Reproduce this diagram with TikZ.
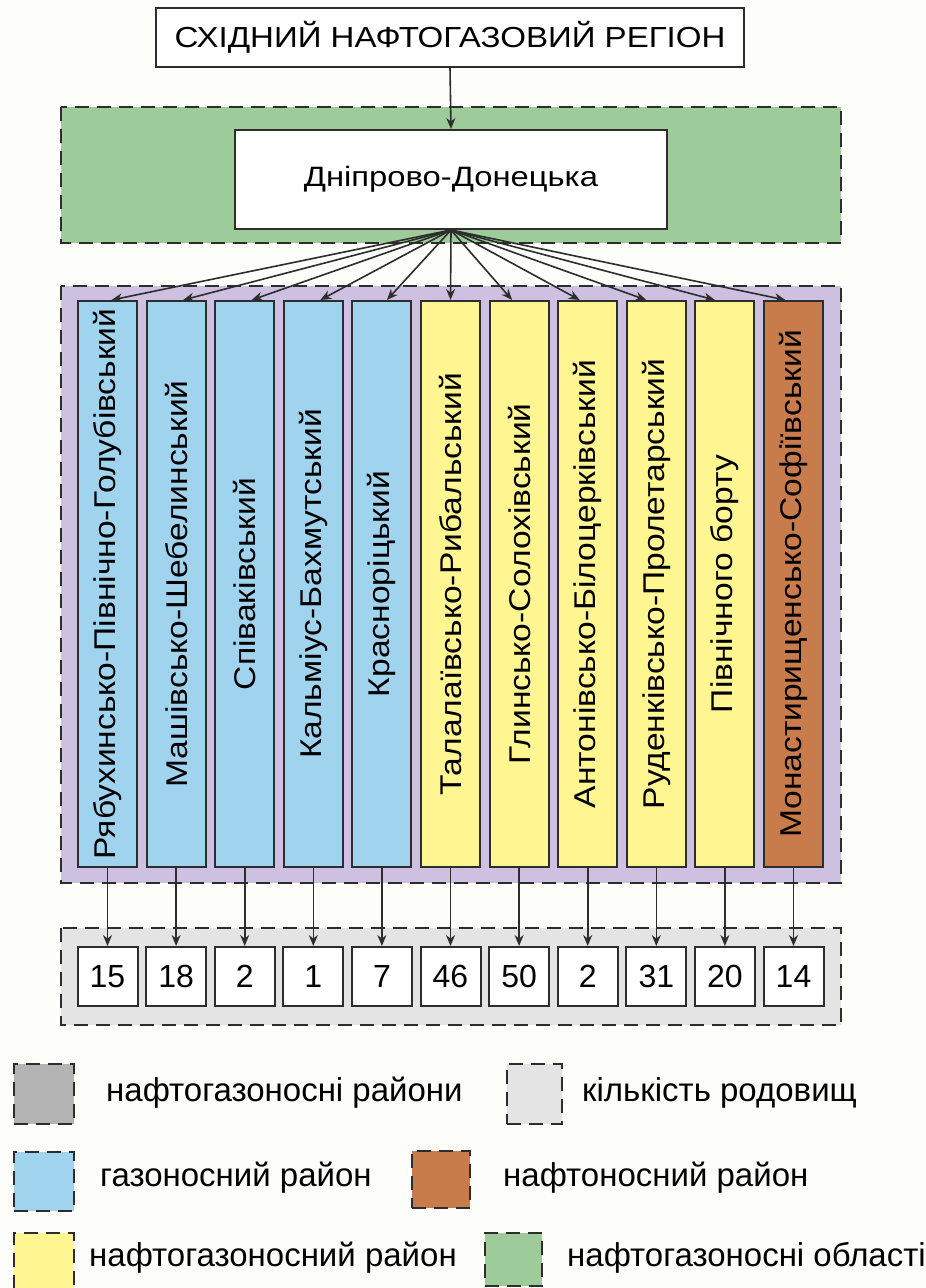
\documentclass[tikz,border=0pt]{standalone}
\usepackage{fontspec}
\setmainfont{Liberation Sans}
\usetikzlibrary{arrows.meta,calc}
\definecolor{bgc}{RGB}{253,253,250}
\definecolor{greenf}{RGB}{157,203,154}
\definecolor{purplef}{RGB}{205,192,224}
\definecolor{bluef}{RGB}{160,211,238}
\definecolor{yellowf}{RGB}{255,245,145}
\definecolor{brownf}{RGB}{201,124,75}
\definecolor{grayf}{RGB}{180,180,180}
\definecolor{lightf}{RGB}{228,228,228}
\definecolor{linec}{RGB}{45,45,45}
\begin{document}
\begin{tikzpicture}[x=1pt,y=-1pt,
  box/.style={draw=linec,line width=2pt,fill=white,inner sep=0pt},
  colbox/.style={draw=linec,line width=2pt,inner sep=0pt,minimum width=59pt,minimum height=566pt},
  numbox/.style={draw=linec,line width=2pt,fill=white,inner sep=0pt,minimum width=60pt,minimum height=59pt,font=\fontsize{32}{36}\selectfont},
  region/.style={draw=linec,line width=2.2pt,dash pattern=on 14pt off 8pt},
  legsq/.style={draw=linec,line width=2.2pt,dash pattern=on 14pt off 8pt},
  legtxt/.style={anchor=west,inner sep=0pt,font=\fontsize{33}{38}\selectfont},
  arr/.style={draw=linec,line width=1.6pt,-{Stealth[length=11pt,width=9pt]}},
  coltxt/.style={font=\fontsize{30}{34}\selectfont}
]
\useasboundingbox[fill=bgc] (0,0) rectangle (926,1288);

% regions
\draw[region,fill=greenf] (61,107) rectangle (841,243);
\draw[region,fill=purplef] (61,286) rectangle (841,883);
\draw[region,fill=lightf] (61,928) rectangle (841,1025);

% top boxes
\node[box,minimum width=588pt,minimum height=59pt,anchor=north west,font=\fontsize{29}{34}\selectfont] (top) at (155,7) {\scalebox{1.14}[1]{СХІДНИЙ НАФТОГАЗОВИЙ РЕГІОН}};
\node[box,minimum width=432pt,minimum height=99pt,anchor=north west,font=\fontsize{28}{34}\selectfont] (dn) at (234,129) {\scalebox{1.17}[1]{Дніпрово-Донецька}};
\draw[arr] (top.south) -- (dn.north);

% columns
\foreach \i/\txt/\col in {
  1/Рябухинсько-Північно-Голубівський/bluef,
  2/Машівсько-Шебелинський/bluef,
  3/Співаківський/bluef,
  4/Кальміус-Бахмутський/bluef,
  5/Красноріцький/bluef,
  6/Талалаївсько-Рибальський/yellowf,
  7/Глинсько-Солохівський/yellowf,
  8/Антонівсько-Білоцерківський/yellowf,
  9/Руденківсько-Пролетарський/yellowf,
  10/Північного борту/yellowf,
  11/Монастирищенсько-Софіївський/brownf}{
  \node[colbox,fill=\col,coltxt] (c\i) at ({107.5+68.6*(\i-1)},584) {\rotatebox{90}{\scalebox{1.12}[1]{\txt}}};
}

% numbers
\foreach \i/\n in {1/15,2/18,3/2,4/1,5/7,6/46,7/50,8/2,9/31,10/20,11/14}{
  \node[numbox] (n\i) at ({107.5+68.6*(\i-1)},976.5) {\n};
  \draw[arr] (c\i.south) -- (n\i.north);
}

% fan arrows
\foreach \i/\s in {1/4,2/7,3/7,4/7,5/5,6/0,7/-7,8/-8,9/-10,10/-10,11/-8}{
  \draw[arr] (dn.south) -- ($(c\i.north)+(\s,0)$);
}

% legend
\node[legsq,fill=grayf,minimum width=60pt,minimum height=60pt,inner sep=0pt,anchor=north west] (l1) at (13,1063) {};
\node[legtxt] (t1) at (106,1093) {нафтогазоносні райони};
\node[legsq,fill=lightf,minimum width=55pt,minimum height=60pt,inner sep=0pt,anchor=north west] (l2) at (506,1063) {};
\node[legtxt] (t2) at (582,1093) {кількість родовищ};
\node[legsq,fill=bluef,minimum width=60pt,minimum height=59pt,inner sep=0pt,anchor=north west] (l3) at (13,1151) {};
\node[legtxt] (t3) at (100,1178) {газоносний район};
\node[legsq,fill=brownf,minimum width=58pt,minimum height=57pt,inner sep=0pt,anchor=north west] (l4) at (411,1150) {};
\node[legtxt] (t4) at (503,1178) {нафтоносний район};
\node[legsq,fill=yellowf,minimum width=60pt,minimum height=58pt,inner sep=0pt,anchor=north west] (l5) at (13,1232) {};
\node[legtxt] (t5) at (89,1258) {нафтогазоносний район};
\node[legsq,fill=greenf,minimum width=57pt,minimum height=53pt,inner sep=0pt,anchor=north west] (l6) at (484,1232) {};
\node[legtxt] (t6) at (567,1258) {нафтогазоносні області};
\end{tikzpicture}
\end{document}
